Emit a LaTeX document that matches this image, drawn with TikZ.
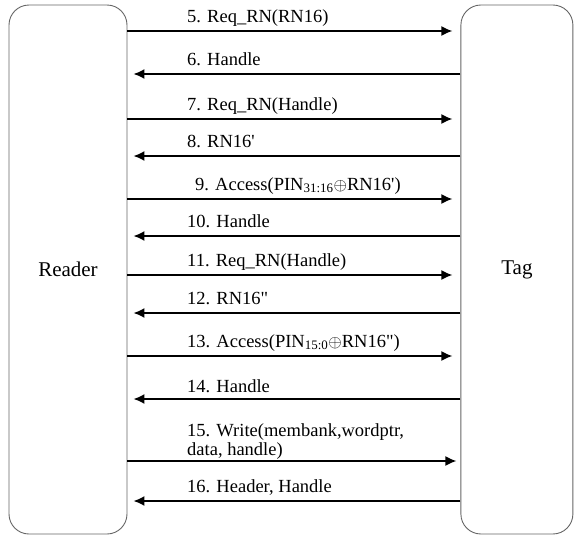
\documentclass[tikz,border=0pt]{standalone}
\usepackage{fontspec}
\setmainfont{Liberation Serif}
\usetikzlibrary{positioning,arrows.meta,calc}
\tikzstyle{party} = [rectangle, draw=black!60, line width=0.9pt, rounded corners=20pt, %
   minimum height=529pt, text centered, font=\fontsize{21}{25}\selectfont]
\tikzstyle{line} = [draw, line width=1.7pt, -{Latex[length=11pt,width=10pt]}]
\tikzstyle{msg} = [anchor=base west, inner sep=0pt, font=\fontsize{18.5}{19}\selectfont]

\begin{document}
\begin{tikzpicture}[x=1pt,y=1pt]
   \useasboundingbox (0,0) rectangle (574,-536);
   % Parties %%%%%%%%%%%%%%%%%%%%%%%%%%%%%%%%%%%%%%%%%%%%%%%%%%%%%%%%%%%%%
      \node[party, minimum width=118pt](Reader) at (68,-269.5){Reader};
      \node[party, minimum width=112pt, right=333pt of Reader](Tag){Tag};

   % Message levels %%%%%%%%%%%%%%%%%%%%%%%%%%%%%%%%%%%%%%%%%%%%%%%%%%%%%%
      \coordinate (m5) at (0,-31);
      \coordinate (m6) at (0,-74);
      \coordinate (m7) at (0,-119);
      \coordinate (m8) at (0,-156);
      \coordinate (m9) at (0,-199);
      \coordinate (m10) at (0,-236);
      \coordinate (m11) at (0,-275);
      \coordinate (m12) at (0,-313);
      \coordinate (m13) at (0,-356);
      \coordinate (m14) at (0,-399);
      \coordinate (m15) at (0,-461);
      \coordinate (m16) at (0,-501);

   % Labels %%%%%%%%%%%%%%%%%%%%%%%%%%%%%%%%%%%%%%%%%%%%%%%%%%%%%%%%%%%%%
      \node[msg](l5) at ([shift={(187,9)}]m5){5. Req\_RN(RN16)};
      \node[msg](l6) at ([shift={(187,9)}]m6){6. Handle};
      \node[msg](l7) at ([shift={(187,9)}]m7){7. Req\_RN(Handle)};
      \node[msg](l8) at ([shift={(187,9)}]m8){8. RN16\textquotesingle};
      \node[msg](l9) at ([shift={(195,9)}]m9){%
         9. Access(PIN\textsubscript{31:16}$\oplus$RN16\textquotesingle)};
      \node[msg](l10) at ([shift={(187,9)}]m10){10. Handle};
      \node[msg](l11) at ([shift={(187,9)}]m11){11. Req\_RN(Handle)};
      \node[msg](l12) at ([shift={(187,9)}]m12){12. RN16\textquotedbl};
      \node[msg](l13) at ([shift={(187,9)}]m13){%
         13. Access(PIN\textsubscript{15:0}$\oplus$RN16\textquotedbl)};
      \node[msg](l14) at ([shift={(187,7)}]m14){14. Handle};
      \node[msg, align=left](l15) at ([shift={(187,6)}]m15){%
         15. Write(membank,wordptr,\\data, handle)};
      \node[msg](l16) at ([shift={(187,9)}]m16){16. Header, Handle};

   % Draw edges
      \path [line] (m5 -| Reader.east) -- ([xshift=-8pt]m5 -| Tag.west);
      \path [line] (m6 -| Tag.west) -- ([xshift=6pt]m6 -| Reader.east);
      \path [line] (m7 -| Reader.east) -- ([xshift=-8pt]m7 -| Tag.west);
      \path [line] (m8 -| Tag.west) -- ([xshift=6pt]m8 -| Reader.east);
      \path [line] (m9 -| Reader.east) -- ([xshift=-8pt]m9 -| Tag.west);
      \path [line] (m10 -| Tag.west) -- ([xshift=6pt]m10 -| Reader.east);
      \path [line] (m11 -| Reader.east) -- ([xshift=-8pt]m11 -| Tag.west);
      \path [line] (m12 -| Tag.west) -- ([xshift=6pt]m12 -| Reader.east);
      \path [line] (m13 -| Reader.east) -- ([xshift=-8pt]m13 -| Tag.west);
      \path [line] (m14 -| Tag.west) -- ([xshift=6pt]m14 -| Reader.east);
      \path [line] (m15 -| Reader.east) -- ([xshift=-4pt]m15 -| Tag.west);
      \path [line] (m16 -| Tag.west) -- ([xshift=6pt]m16 -| Reader.east);
\end{tikzpicture}
\end{document}
